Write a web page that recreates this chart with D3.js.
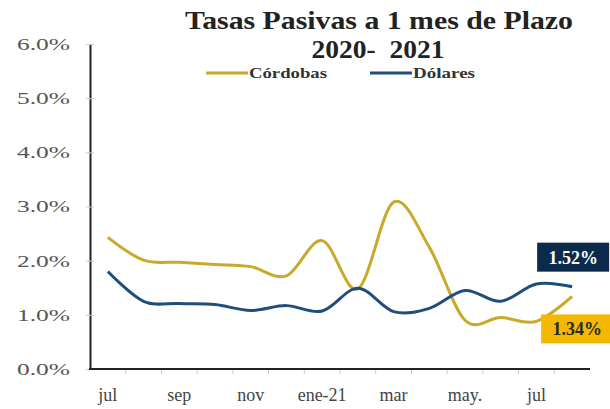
<!doctype html>
<html lang="es">
<head>
  <meta charset="UTF-8">
  <title>Tasas Pasivas a 1 mes de Plazo</title>
  <style type="text/css">
    body { margin: 0; background: #fff; }
    text { font-family: "Liberation Serif", "DejaVu Serif", serif; }
  </style>
  <script src="https://cdn.jsdelivr.net/npm/d3@7"></script>
</head>
<body>
  <div id="container"></div>
  <script>
    // meses jul-2020 a ago-2021
    var meses = ['jul', 'ago', 'sep', 'oct', 'nov', 'dic', 'ene-21', 'feb', 'mar', 'abr', 'may.', 'jun', 'jul ', 'ago '];
    var etiquetas = ['jul', 'sep', 'nov', 'ene-21', 'mar', 'may.', 'jul '];
    var cordobas = [0.0243, 0.0201, 0.0197, 0.0193, 0.0189, 0.0172, 0.0237, 0.0148, 0.0308, 0.0225, 0.0090, 0.0095, 0.0088, 0.0134];
    var dolares = [0.0180, 0.0125, 0.0121, 0.0119, 0.0108, 0.0117, 0.0107, 0.0149, 0.0106, 0.0112, 0.0145, 0.0125, 0.0157, 0.0152];
    var yTicks = [0, 0.01, 0.02, 0.03, 0.04, 0.05, 0.06];

    var width = 610, height = 409,
      m = { left: 90, right: 590, top: 44, bottom: 369 };

    var svg = d3.select('#container').append('svg').attr('width', width).attr('height', height);

    var x = d3.scaleBand().domain(meses).range([m.left, m.right]).paddingInner(0).paddingOuter(0);
    var cx = function (d, i) { return x(meses[i]) + x.bandwidth() / 2; };
    var y = d3.scaleLinear().domain([0, 0.06]).range([m.bottom, m.top]);

    // eje Y
    var yAxis = d3.axisLeft(y).tickValues(yTicks).tickFormat(d3.format('.1%')).tickSizeInner(4).tickSizeOuter(0).tickPadding(16);
    var gy = svg.append('g').attr('transform', 'translate(' + m.left + ',0)').call(yAxis);
    gy.select('.domain').attr('stroke', '#222').attr('stroke-width', 2);
    gy.selectAll('.tick line').attr('stroke', '#ccc').attr('x2', 4).attr('x1', -4);
    gy.selectAll('.tick text').attr('fill', '#555').style('font-size', '17px')
      .attr('textLength', 53).attr('lengthAdjust', 'spacingAndGlyphs');

    // eje X
    var gx = svg.append('g').attr('transform', 'translate(0,' + m.bottom + ')');
    gx.append('line').attr('x1', m.left - 1).attr('x2', m.right).attr('stroke', '#222').attr('stroke-width', 2);
    gx.selectAll('.mtick').data(meses.slice(1)).enter().append('line')
      .attr('x1', function (d) { return x(d); }).attr('x2', function (d) { return x(d); })
      .attr('y1', 1).attr('y2', 5).attr('stroke', '#ccc');
    gx.selectAll('.lbl').data(etiquetas).enter().append('text')
      .attr('x', function (d) { return x(d) + x.bandwidth() / 2; })
      .attr('y', 32).attr('text-anchor', 'middle').attr('fill', '#444')
      .style('font-size', '18px').text(function (d) { return d.trim(); });

    // suavizado tipo Excel
    var line = d3.line().x(cx).y(function (d) { return y(d); }).curve(d3.curveCatmullRom.alpha(0));

    svg.append('path').attr('d', line(cordobas)).attr('fill', 'none').attr('stroke', '#c9a92a').attr('stroke-width', 3);
    svg.append('path').attr('d', line(dolares)).attr('fill', 'none').attr('stroke', '#1f4e7c').attr('stroke-width', 3);

    // titulo
    svg.append('text').attr('x', 379).attr('y', 29).attr('text-anchor', 'middle').attr('font-weight', 'bold')
      .attr('fill', '#222').style('font-size', '25px')
      .attr('textLength', 388).attr('lengthAdjust', 'spacingAndGlyphs').text('Tasas Pasivas a 1 mes de Plazo');
    svg.append('text').attr('x', 378).attr('y', 58).attr('text-anchor', 'middle').attr('font-weight', 'bold')
      .attr('fill', '#222').style('font-size', '25px').style('white-space', 'pre')
      .attr('textLength', 133).attr('lengthAdjust', 'spacingAndGlyphs').text('2020-  2021');

    // leyenda
    var leg = [{ n: 'Córdobas', c: '#c9a92a', x: 206, w: 78 }, { n: 'Dólares', c: '#1f4e7c', x: 370, w: 62 }];
    leg.forEach(function (l) {
      svg.append('line').attr('x1', l.x).attr('x2', l.x + 42).attr('y1', 73).attr('y2', 73).attr('stroke', l.c).attr('stroke-width', 3);
      svg.append('text').attr('x', l.x + 43).attr('y', 78).attr('font-weight', 'bold').attr('fill', '#333')
        .style('font-size', '14px').attr('textLength', l.w).attr('lengthAdjust', 'spacingAndGlyphs').text(l.n);
    });

    // etiquetas finales
    var last = meses.length - 1;
    var lx = cx(null, last);
    var boxes = [
      { v: dolares[last], bg: '#0c2a4c', fg: '#fff', dx: -35, dy: -44 },
      { v: cordobas[last], bg: '#f5b800', fg: '#2a2a2a', dx: -31, dy: 18 }
    ];
    boxes.forEach(function (b) {
      var by = y(b.v) + b.dy;
      svg.append('rect').attr('x', lx + b.dx).attr('y', by).attr('width', 72).attr('height', 29).attr('fill', b.bg);
      svg.append('text').attr('x', lx + b.dx + 36).attr('y', by + 21).attr('text-anchor', 'middle')
        .attr('font-weight', 'bold').attr('fill', b.fg).style('font-size', '18px')
        .text(d3.format('.2%')(b.v));
    });
  </script>
</body>
</html>
